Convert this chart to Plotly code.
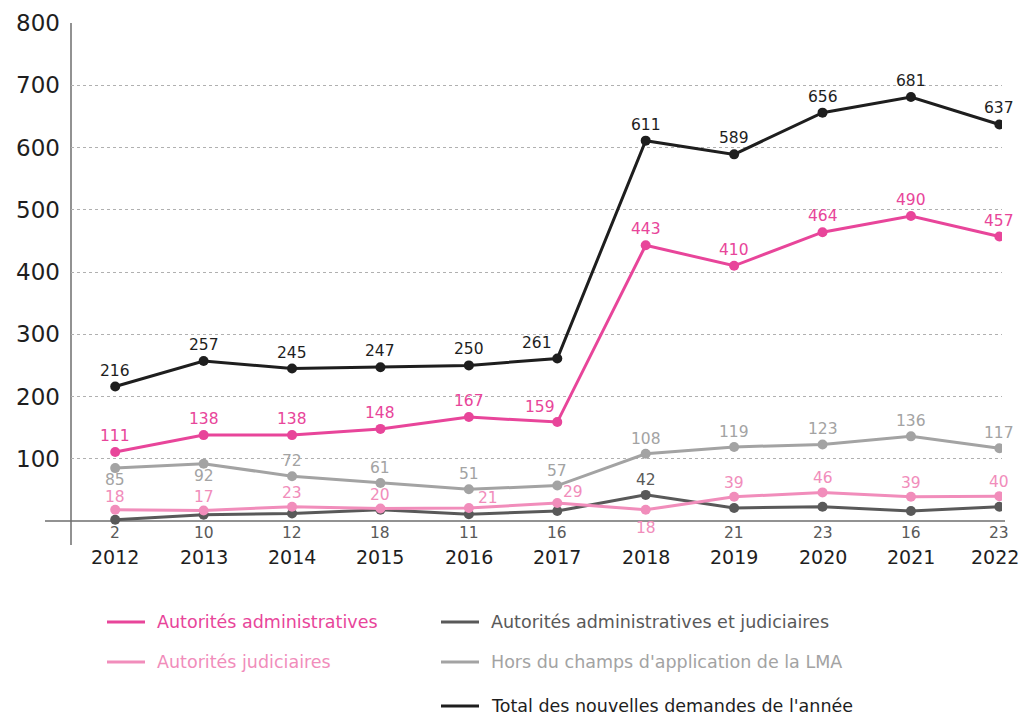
import plotly.graph_objects as go

years = [2012, 2013, 2014, 2015, 2016, 2017, 2018, 2019, 2020, 2021, 2022]
year_labels = ["2012", "2013", "2014", "2015", "2016", "2017", "2018", "2019", "2020", "2021", "2022"]
aut_admin = [111, 138, 138, 148, 167, 159, 443, 410, 464, 490, 457]
aut_jud = [18, 17, 23, 20, 21, 29, 18, 39, 46, 39, 40]
aut_admin_jud = [2, 10, 12, 18, 11, 16, 42, 21, 23, 16, 23]
hors_lma = [85, 92, 72, 61, 51, 57, 108, 119, 123, 136, 117]
total = [216, 257, 245, 247, 250, 261, 611, 589, 656, 681, 637]

y_ticks = [100, 200, 300, 400, 500, 600, 700, 800]

names = {
    "aa": "Autorités administratives",
    "aj": "Autorités judiciaires",
    "aaj": "Autorités administratives et judiciaires",
    "hors": "Hors du champs d'application de la LMA",
    "tot": "Total des nouvelles demandes de l'année",
}

C_PINK = "#e8459a"
C_LPINK = "#f18dbb"
C_DGRAY = "#595959"
C_GRAY = "#a3a3a3"
C_BLACK = "#1e1e1e"

FONT = "DejaVu Sans"

fig = go.Figure()

series = [
    (hors_lma, C_GRAY, names["hors"]),
    (aut_admin_jud, C_DGRAY, names["aaj"]),
    (aut_jud, C_LPINK, names["aj"]),
    (aut_admin, C_PINK, names["aa"]),
    (total, C_BLACK, names["tot"]),
]
for vals, col, nm in series:
    fig.add_trace(go.Scatter(
        x=years, y=vals, mode="lines+markers", name=nm,
        line=dict(color=col, width=3),
        marker=dict(color=col, size=10),
        showlegend=False,
    ))

annots = []

def lab(x, y, text, color, yshift=16, xshift=0, yval=None):
    annots.append(dict(
        x=x, y=y if yval is None else yval, xref="x", yref="y", text=str(text),
        showarrow=False, yshift=yshift, xshift=xshift, borderpad=0,
        font=dict(family=FONT, size=15.5, color=color),
    ))

for i, yr in enumerate(years):
    if yr == 2017:
        lab(yr, total[i], total[i], C_BLACK, yshift=16, xshift=-20)
        lab(yr, aut_admin[i], aut_admin[i], C_PINK, yshift=15, xshift=-17)
    else:
        lab(yr, total[i], total[i], C_BLACK, yshift=16)
        lab(yr, aut_admin[i], aut_admin[i], C_PINK, yshift=16)
    if yr in (2012, 2013):
        lab(yr, hors_lma[i], hors_lma[i], C_GRAY, yshift=-12)
    else:
        lab(yr, hors_lma[i], hors_lma[i], C_GRAY, yshift=15)
    if yr == 2018:
        lab(yr, aut_jud[i], aut_jud[i], C_LPINK, yshift=-18)
    elif yr == 2017:
        lab(yr, aut_jud[i], aut_jud[i], C_LPINK, yshift=11, xshift=16)
    elif yr == 2016:
        lab(yr, aut_jud[i], aut_jud[i], C_LPINK, yshift=10, xshift=19)
    elif yr in (2012, 2013):
        lab(yr, aut_jud[i], aut_jud[i], C_LPINK, yshift=13)
    else:
        lab(yr, aut_jud[i], aut_jud[i], C_LPINK, yshift=14)
    if yr == 2018:
        lab(yr, aut_admin_jud[i], aut_admin_jud[i], C_DGRAY, yshift=15)
    else:
        lab(yr, aut_admin_jud[i], aut_admin_jud[i], C_DGRAY, yshift=-12, yval=0)

# x tick labels as annotations (last one nudged inward like the reference)
for yr, t in zip(years, year_labels):
    annots.append(dict(x=yr, y=0, xref="x", yref="paper", text=t, showarrow=False,
                       yanchor="top", yshift=1, xshift=(-4 if yr == 2022 else 0),
                       font=dict(family=FONT, size=19, color=C_BLACK)))

# manual legend
legend_items = [
    (0, 0, names["aa"], C_PINK),
    (0, 1, names["aj"], C_LPINK),
    (1, 0, names["aaj"], C_DGRAY),
    (1, 1, names["hors"], C_GRAY),
    (1, 2, names["tot"], C_BLACK),
]
shapes = []
W, H = 1022, 715
L, R, T, B = 71, 20, 23, 170
pw, ph = W - L - R, H - T - B
col_x = [107, 441]
row_y = [622, 662, 706]
for c, r, txt, col in legend_items:
    x0 = (col_x[c] - L) / pw
    x1 = (col_x[c] + 38 - L) / pw
    yy = (H - B - row_y[r]) / ph
    shapes.append(dict(type="line", xref="paper", yref="paper", x0=x0, x1=x1, y0=yy, y1=yy,
                       line=dict(color=col, width=3)))
    annots.append(dict(x=(col_x[c] + 48 - L) / pw, y=yy, xref="paper", yref="paper",
                       text=txt, showarrow=False, xanchor="left", yanchor="middle",
                       font=dict(family=FONT, size=17.5, color=col)))

# zero line and y axis line
shapes.append(dict(type="line", xref="paper", yref="y", x0=(45 - L) / pw, x1=(1005 - L) / pw,
                   y0=0, y1=0, line=dict(color="#6e6e6e", width=1.5), layer="below"))
shapes.append(dict(type="line", xref="paper", yref="paper", x0=0, x1=0, y0=0, y1=1,
                   line=dict(color="#6e6e6e", width=1.5), layer="below"))

fig.update_layout(
    width=W, height=H,
    margin=dict(l=L, r=R, t=T, b=B, autoexpand=False),
    paper_bgcolor="white", plot_bgcolor="white",
    xaxis=dict(range=[2011.5, 2022.03], tickvals=years, showticklabels=False,
               showgrid=False, zeroline=False, showline=False, ticks="", automargin=False),
    yaxis=dict(range=[-38.5, 800], tickvals=y_ticks, showgrid=True, griddash="dot",
               gridcolor="#b0b0b0", gridwidth=1, zeroline=False, showline=False, ticks="",
               automargin=False,
               tickfont=dict(family=FONT, size=23, color=C_BLACK), ticklabelstandoff=10),
    annotations=annots, shapes=shapes,
    font=dict(family=FONT),
)

fig.write_html("out.html")
